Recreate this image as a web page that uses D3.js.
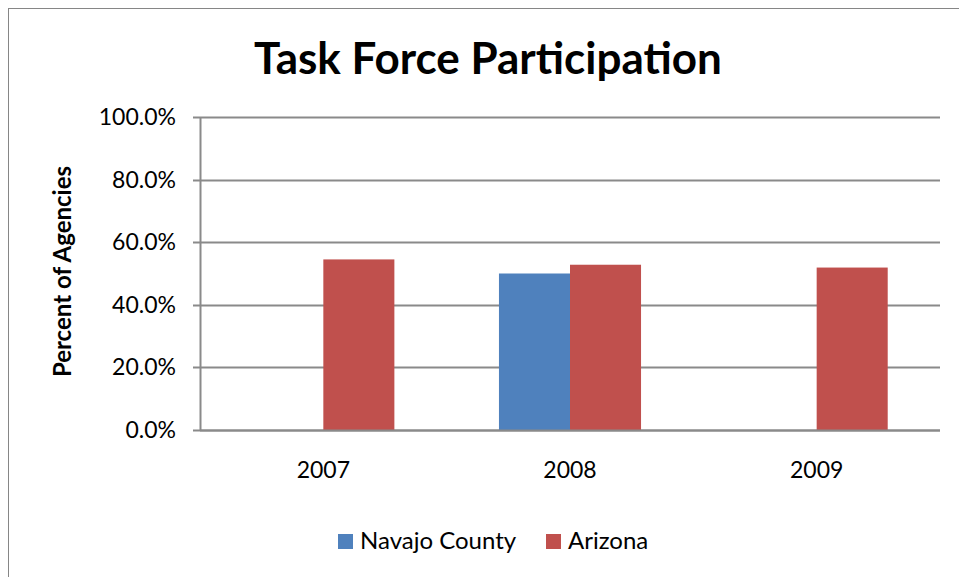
<!DOCTYPE html>
<html>
<head>
<meta charset="utf-8">
<script src="https://cdn.jsdelivr.net/npm/d3@7"></script>
<style>
  body { margin: 0; background: #fff; }
  svg { display: block; font-family: Lato, "Open Sans", sans-serif; }
</style>
</head>
<body>
<svg id="chart" width="959" height="577"></svg>
<script>
var years = ["2007", "2008", "2009"];
var seriesNames = ["Navajo County", "Arizona"];
var navajoValues = [0, 0.50, 0];
var arizonaValues = [0.545, 0.528, 0.519];
var yTicks = [0, 0.2, 0.4, 0.6, 0.8, 1.0];

var colors = ["#4F81BD", "#C0504D"];
var values = [navajoValues, arizonaValues];

var svg = d3.select("#chart");
var plot = { left: 200, right: 940, top: 117, bottom: 430 };

// chart border
svg.append("rect")
    .attr("x", 8.5).attr("y", 8.5)
    .attr("width", 1000).attr("height", 1000)
    .attr("fill", "none")
    .attr("stroke", "#868686")
    .attr("stroke-width", 1);

var x = d3.scaleBand()
    .domain(years)
    .range([plot.left, plot.right])
    .paddingInner(0.424)
    .paddingOuter(0.212);

var xInner = d3.scaleBand()
    .domain(seriesNames)
    .range([0, x.bandwidth()]);

var y = d3.scaleLinear()
    .domain([0, 1])
    .range([plot.bottom, plot.top]);

// gridlines
svg.append("g")
    .selectAll("line")
    .data(yTicks)
    .enter().append("line")
    .attr("x1", plot.left - 7)
    .attr("x2", plot.right)
    .attr("y1", function(d) { return Math.round(y(d)) + 0.5; })
    .attr("y2", function(d) { return Math.round(y(d)) + 0.5; })
    .attr("stroke", "#8a8a8a")
    .attr("stroke-width", 2);

// bars
var groups = svg.append("g")
    .selectAll("g")
    .data(years)
    .enter().append("g")
    .attr("transform", function(d) { return "translate(" + x(d) + ",0)"; });

groups.selectAll("rect")
    .data(function(d, i) {
        return seriesNames.map(function(s, j) {
            return { name: s, value: values[j][i], color: colors[j] };
        });
    })
    .enter().append("rect")
    .attr("x", function(d) { return xInner(d.name); })
    .attr("width", xInner.bandwidth())
    .attr("y", function(d) { return y(d.value); })
    .attr("height", function(d) { return plot.bottom - y(d.value); })
    .attr("fill", function(d) { return d.color; });

// y axis line
svg.append("line")
    .attr("x1", plot.left + 0.5).attr("x2", plot.left + 0.5)
    .attr("y1", plot.top).attr("y2", plot.bottom + 1)
    .attr("stroke", "#8a8a8a")
    .attr("stroke-width", 2);

// x axis line
svg.append("line")
    .attr("x1", plot.left).attr("x2", plot.right)
    .attr("y1", plot.bottom + 0.5).attr("y2", plot.bottom + 0.5)
    .attr("stroke", "#8a8a8a")
    .attr("stroke-width", 2);

// y tick labels
svg.append("g")
    .selectAll("text")
    .data(yTicks)
    .enter().append("text")
    .attr("x", 176)
    .attr("y", function(d) { return y(d) + 8; })
    .attr("text-anchor", "end")
    .attr("font-size", 23)
    .attr("fill", "#000")
    .text(function(d) { return d3.format(".1%")(d); });

// x tick labels
svg.append("g")
    .selectAll("text")
    .data(years)
    .enter().append("text")
    .attr("x", function(d) { return x(d) + x.bandwidth() / 2; })
    .attr("y", 478)
    .attr("text-anchor", "middle")
    .attr("font-size", 23)
    .attr("fill", "#000")
    .text(function(d) { return d; });

// title
svg.append("text")
    .attr("x", 488)
    .attr("y", 74)
    .attr("text-anchor", "middle")
    .attr("font-size", 44)
    .attr("font-weight", "bold")
    .text("Task Force Participation");

// y axis title
svg.append("text")
    .attr("transform", "translate(71," + ((plot.top + plot.bottom) / 2 - 2) + ") rotate(-90)")
    .attr("text-anchor", "middle")
    .attr("font-size", 24)
    .attr("font-weight", "bold")
    .text("Percent of Agencies");

// legend
var legendX = [338, 546];
var legend = svg.append("g")
    .selectAll("g")
    .data(seriesNames)
    .enter().append("g")
    .attr("transform", function(d, i) { return "translate(" + legendX[i] + ",534)"; });

legend.append("rect")
    .attr("width", 15).attr("height", 15)
    .attr("fill", function(d, i) { return colors[i]; });

legend.append("text")
    .attr("x", 22)
    .attr("y", 15)
    .attr("font-size", 24)
    .text(function(d) { return d; });
</script>
</body>
</html>
